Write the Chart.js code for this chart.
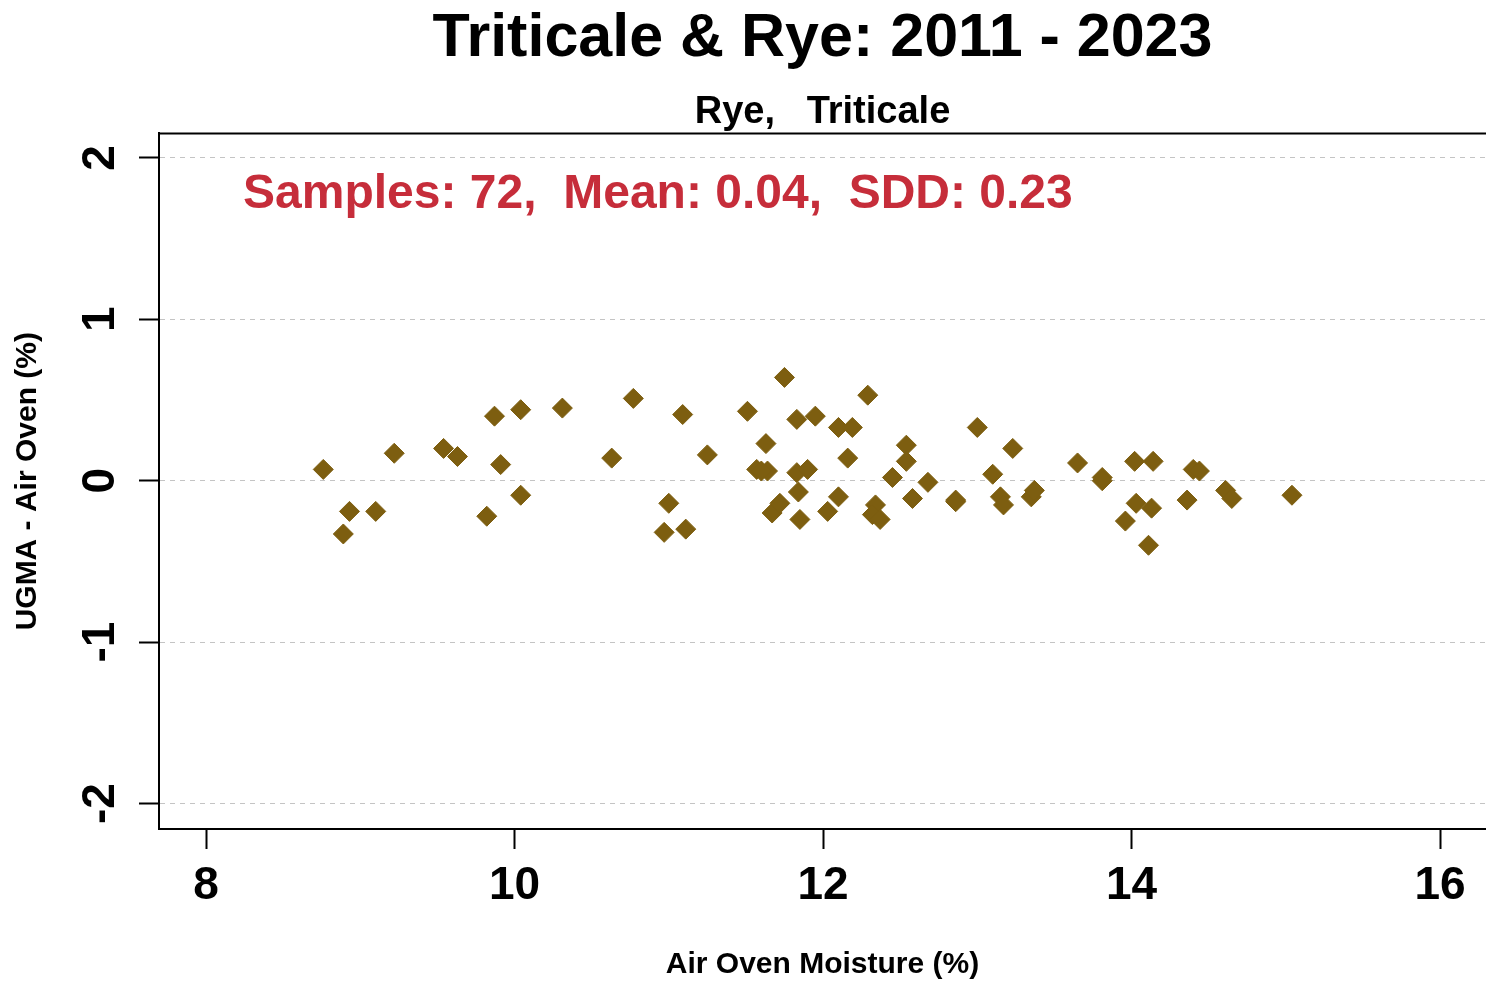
<!DOCTYPE html>
<html>
<head>
<meta charset="utf-8">
<title>Triticale & Rye: 2011 - 2023</title>
<script src="https://cdn.jsdelivr.net/npm/chart.js@4/dist/chart.umd.min.js"></script>
<style>
  html, body { margin: 0; padding: 0; background: #fff; overflow: hidden; }
  #wrap { width: 1486px; height: 983px; }
</style>
</head>
<body>
<div id="wrap"><canvas id="myChart" width="1486" height="983"></canvas></div>
<script>
// air oven moisture (x) and UGMA - air oven difference (y)
var moisture = [
  8.76, 8.89, 8.93, 9.10, 9.22, 9.54, 9.63, 9.82, 9.87, 9.91,
  10.04, 10.04, 10.31, 10.63, 10.77, 10.97, 11.00, 11.11, 11.09, 11.25,
  11.51, 11.57, 11.63, 11.64, 11.67, 11.72, 11.75, 11.83, 11.83, 11.84,
  11.85, 11.90, 11.95, 12.03, 12.10, 12.10, 12.19, 12.16, 12.29, 12.34,
  12.32, 12.37, 12.45, 12.54, 12.54, 12.58, 12.68, 12.86, 13.00, 13.10,
  13.15, 13.17, 13.23, 13.35, 13.37, 13.65, 13.81, 13.96, 14.02, 14.14,
  14.03, 14.13, 14.11, 14.36, 14.40, 14.44, 14.61, 14.65, 15.04, 13.81,
  12.86, 11.60
];
var diff = [
  0.07, -0.33, -0.19, -0.19, 0.17, 0.20, 0.15, -0.22, 0.40, 0.10,
  0.44, -0.09, 0.45, 0.14, 0.51, -0.32, -0.14, -0.30, 0.41, 0.16,
  0.43, 0.07, 0.23, 0.06, -0.20, -0.14, 0.64, 0.38, 0.05, -0.07,
  -0.24, 0.07, 0.40, -0.19, -0.10, 0.33, 0.33, 0.14, 0.53, -0.15,
  -0.21, -0.24, 0.02, 0.22, 0.12, -0.11, -0.01, -0.12, 0.33, 0.04,
  -0.10, -0.15, 0.20, -0.10, -0.06, 0.11, 0.02, -0.25, 0.12, 0.12,
  -0.14, -0.17, -0.40, -0.12, 0.07, 0.06, -0.06, -0.11, -0.09, 0.00,
  -0.13, 0.06
];
var xTicks = [8, 10, 12, 14, 16];
var yTicks = [-2, -1, 0, 1, 2];
var sampleCount = 72, meanDiff = 0.04, sddDiff = 0.23;

var FONT = "'Liberation Sans', Arial, sans-serif";

var points = [];
for (var i = 0; i < moisture.length; i++) {
  points.push({x: moisture[i], y: diff[i]});
}

// top edge of the box + the stats text in red
var boxAndStats = {
  id: 'boxAndStats',
  afterDraw: function(chart) {
    var ctx = chart.ctx, a = chart.chartArea;
    ctx.save();
    ctx.strokeStyle = '#000';
    ctx.lineWidth = 2;
    ctx.beginPath();
    ctx.moveTo(a.left - 1, a.top);
    ctx.lineTo(a.right + 2, a.top);
    ctx.stroke();

    var sx = chart.scales.x.getPixelForValue(8.24);
    var sy = chart.scales.y.getPixelForValue(1.69);
    ctx.fillStyle = '#C62D3A';
    ctx.font = 'bold 48px ' + FONT;
    ctx.textBaseline = 'alphabetic';
    ctx.textAlign = 'left';
    ctx.fillText('Samples: ' + sampleCount + ',  Mean: ' + meanDiff.toFixed(2) + ',  SDD: ' + sddDiff.toFixed(2), sx, sy);
    ctx.restore();
  }
};

var chartConfig = {
  type: 'scatter',
  data: {
    datasets: [{
      label: 'Rye, Triticale',
      data: points,
      pointStyle: 'rectRot',
      pointRadius: 10,
      pointHoverRadius: 10,
      backgroundColor: '#7D5E10',
      borderColor: '#7D5E10',
      borderWidth: 1
    }]
  },
  options: {
    responsive: false,
    animation: false,
    layout: { padding: 0, autoPadding: false },
    plugins: {
      legend: { display: false },
      tooltip: { enabled: false },
      title: {
        display: true,
        fullSize: false,
        text: 'Triticale & Rye: 2011 - 2023',
        color: '#000',
        font: { family: FONT, size: 61, weight: 'bold', lineHeight: 1.2 },
        padding: { top: 3, bottom: 0 }
      },
      subtitle: {
        display: true,
        fullSize: false,
        text: 'Rye,   Triticale',
        color: '#000',
        font: { family: FONT, size: 38, weight: 'bold', lineHeight: 1.1 },
        padding: { top: 15.4, bottom: 0 }
      }
    },
    scales: {
      x: {
        type: 'linear',
        min: 7.695,
        max: 16.298,
        afterBuildTicks: function(s) { s.ticks = xTicks.map(function(v) { return {value: v}; }); },
        afterFit: function(s) { s.height = 154; s.paddingLeft = 0; s.paddingRight = 0; },
        grid: { drawOnChartArea: false, tickLength: 20, tickColor: '#000', tickWidth: 2 },
        border: { display: true, color: '#000', width: 2 },
        ticks: {
          color: '#000',
          font: { family: FONT, size: 46, weight: 'bold' },
          padding: 10,
          maxRotation: 0
        },
        title: {
          display: true,
          text: 'Air Oven Moisture (%)',
          color: '#000',
          font: { family: FONT, size: 30, weight: 'bold', lineHeight: 1.2 },
          padding: { top: 0, bottom: 0 }
        }
      },
      y: {
        type: 'linear',
        min: -2.158,
        max: 2.152,
        afterBuildTicks: function(s) { s.ticks = yTicks.map(function(v) { return {value: v}; }); },
        afterFit: function(s) { s.width = 159; s.paddingTop = 0; s.paddingBottom = 0; },
        grid: { color: '#c4c4c4', lineWidth: 1, tickLength: 20, tickColor: '#000', tickWidth: 2 },
        border: { display: true, color: '#000', width: 2, dash: [5, 5] },
        ticks: {
          color: '#000',
          font: { family: FONT, size: 46, weight: 'bold' },
          minRotation: 90,
          maxRotation: 90,
          crossAlign: 'center',
          padding: 17
        },
        title: {
          display: true,
          text: 'UGMA - Air Oven (%)',
          color: '#000',
          font: { family: FONT, size: 30, weight: 'bold', lineHeight: 1.2 },
          padding: { top: 10, bottom: 0 }
        }
      }
    }
  },
  plugins: [boxAndStats]
};

var myChart = new Chart(document.getElementById('myChart'), chartConfig);
</script>
</body>
</html>
